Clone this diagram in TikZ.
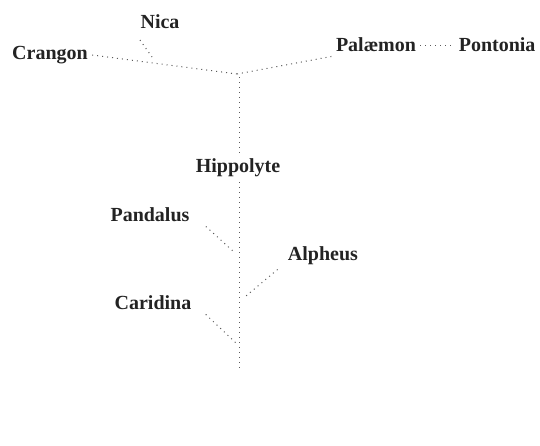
\documentclass[tikz,border=0pt]{standalone}
\usepackage{fontspec}
\setmainfont{Liberation Serif}
\usepackage{tikz}
\usetikzlibrary{positioning,calc}
\definecolor{InkGray}{RGB}{35,35,35}
\definecolor{DotGray}{RGB}{90,90,90}

\begin{document}
\begin{tikzpicture}[
    x=0.5pt, y=-0.5pt,
    taxon/.style={font=\bfseries\fontsize{10}{12}\selectfont, text=InkGray, inner sep=2pt},
    link/.style={dotted, line width=0.5pt, draw=DotGray}
]
    \useasboundingbox (0,0) rectangle (540,445);
    % names
    \node[taxon] (nica) at (160,22) {Nica};
    \node[taxon] (crangon) at (50,55) {Crangon};
    \node[taxon] (palaemon) at (376,45) {Palæmon};
    \node[taxon, right=17pt of palaemon] (pontonia) {Pontonia};
    \node[taxon] (hippolyte) at (238,168) {Hippolyte};
    \node[taxon] (pandalus) at (150,215) {Pandalus};
    \node[taxon] (alpheus) at (323,256) {Alpheus};
    \node[taxon] (caridina) at (153,303) {Caridina};
    % points on the stem
    \coordinate (top) at (237,74);
    \coordinate (base) at (239,370);
    \coordinate (nicaend) at (152,57);
    \coordinate (nicastart) at (140,40);
    \coordinate (pandaluspt) at (234,252);
    \coordinate (alpheuspt) at (246,296);
    \coordinate (caridinapt) at (236,343);
    % branches
    \draw[link] (crangon.east) -- (top);
    \draw[link] (nicastart) -- (nicaend);
    \draw[link] (top) -- (palaemon.south west);
    \draw[link] (palaemon) -- (pontonia);
    \draw[link] (239,77) -- (239,155);
    \draw[link] (239,182) -- (base);
    \draw[link] (pandalus.south east) ++(12,0) coordinate (pandalusst) -- (pandaluspt);
    \draw[link] ($(alpheus.south west)+(-6,0)$) coordinate (alpheusst) -- (alpheuspt);
    \draw[link] (caridina.south east) ++(10,0) coordinate (caridinast) -- (caridinapt);
\end{tikzpicture}
\end{document}
